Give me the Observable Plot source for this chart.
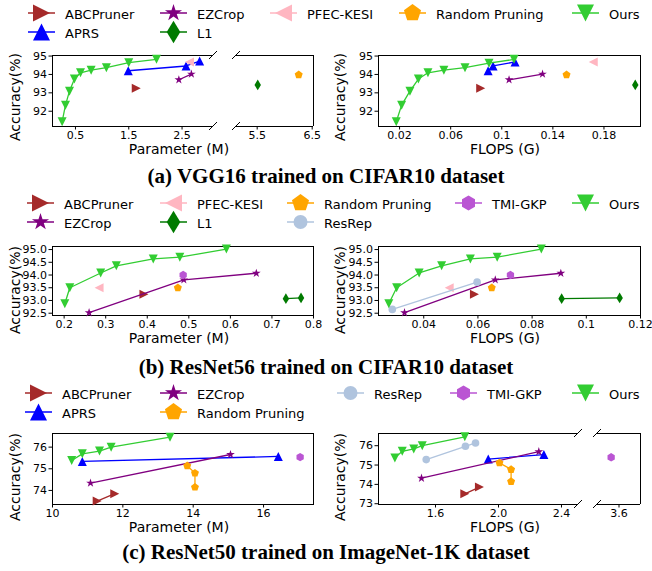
<!DOCTYPE html>
<html><head><meta charset="utf-8">
<script src="https://cdn.jsdelivr.net/npm/d3@7"></script>
<script src="https://cdn.jsdelivr.net/npm/@observablehq/plot@0.6"></script>
<style>
body{margin:0;background:#fff;}
#page{position:relative;width:652px;height:571px;background:#fff;font-family:"DejaVu Sans",sans-serif;overflow:hidden;}
.abs{position:absolute;white-space:nowrap;line-height:1;}
.cap{font-family:"Liberation Serif",serif;font-weight:bold;font-size:21px;transform:translate(-50%,-50%);}
.xl{font-size:14px;transform:translate(-50%,-50%);}
.yl{font-size:14px;transform:translate(-50%,-50%) rotate(-90deg);}
.lg{font-size:13px;}
</style></head>
<body><div id="page"></div>
<script>
// ---------------- data ----------------
const methods = ["ABCPruner","APRS","EZCrop","L1","PFEC-KESI","Random Pruning","ResRep","TMI-GKP","Ours"];

// (a) VGG16 / CIFAR10 — parameters (M)
const vggParam = [
  ["ABCPruner",1.64,93.25],
  ["APRS",1.49,94.2],["APRS",2.575,94.46],["APRS",2.83,94.73],
  ["EZCrop",2.44,93.71],["EZCrop",2.675,94.02],
  ["L1",5.51,93.43],
  ["PFEC-KESI",2.64,94.68],
  ["Random Pruning",6.255,93.98],
  ["Ours",0.25,91.43],["Ours",0.3125,92.33],["Ours",0.3875,93.09],["Ours",0.48,93.75],["Ours",0.594,94.09],
  ["Ours",0.794,94.23],["Ours",1.08,94.37],["Ours",1.5,94.64],["Ours",2.02,94.82]
];
// (a) VGG16 / CIFAR10 — FLOPS (G)
const vggFlops = [
  ["ABCPruner",0.0835,93.25],
  ["APRS",0.0893,94.2],["APRS",0.0932,94.46],["APRS",0.1104,94.68],
  ["EZCrop",0.1057,93.71],["EZCrop",0.1319,94.02],
  ["L1",0.2045,93.43],
  ["PFEC-KESI",0.1716,94.68],
  ["Random Pruning",0.1507,93.98],
  ["Ours",0.0174,91.43],["Ours",0.0216,92.33],["Ours",0.0281,93.09],["Ours",0.0347,93.75],["Ours",0.0422,94.09],
  ["Ours",0.0547,94.23],["Ours",0.0712,94.37],["Ours",0.09,94.61],["Ours",0.1096,94.82]
];
// (b) ResNet56 / CIFAR10 — parameters (M)
const r56Param = [
  ["ABCPruner",0.392,93.24],
  ["EZCrop",0.26,92.52],["EZCrop",0.488,93.81],["EZCrop",0.6624,94.07],
  ["L1",0.7336,93.07],["L1",0.77,93.1],
  ["PFEC-KESI",0.284,93.5],
  ["Random Pruning",0.4736,93.5],
  ["TMI-GKP",0.4864,94.0],
  ["Ours",0.2016,92.87],["Ours",0.2136,93.5],["Ours",0.288,94.08],["Ours",0.3256,94.36],
  ["Ours",0.4144,94.63],["Ours",0.4784,94.7],["Ours",0.5904,95.02]
];
// (b) ResNet56 / CIFAR10 — FLOPS (G)
const r56Flops = [
  ["ABCPruner",0.0587,93.24],
  ["EZCrop",0.0329,92.52],["EZCrop",0.0664,93.81],["EZCrop",0.0906,94.07],
  ["L1",0.0909,93.07],["L1",0.1123,93.1],
  ["PFEC-KESI",0.0494,93.5],
  ["Random Pruning",0.0651,93.5],
  ["ResRep",0.0284,92.65],["ResRep",0.0597,93.72],
  ["TMI-GKP",0.072,94.0],
  ["Ours",0.0271,92.87],["Ours",0.03,93.5],["Ours",0.0383,94.08],["Ours",0.0466,94.36],
  ["Ours",0.0572,94.63],["Ours",0.0671,94.7],["Ours",0.0834,95.02]
];
// (c) ResNet50 / ImageNet-1K — parameters (M)
const r50Param = [
  ["ABCPruner",11.27,73.51],["ABCPruner",11.77,73.85],
  ["APRS",10.847,75.34],["APRS",16.42,75.57],
  ["EZCrop",11.08,74.34],["EZCrop",15.06,75.66],
  ["Random Pruning",13.83,75.14],["Random Pruning",14.05,74.8],["Random Pruning",14.05,74.15],
  ["TMI-GKP",17.04,75.54],
  ["Ours",10.546,75.38],["Ours",10.847,75.69],["Ours",11.336,75.82],["Ours",11.666,76.0],["Ours",13.341,76.46]
];
// (c) ResNet50 / ImageNet-1K — FLOPS (G)
const r50Flops = [
  ["ABCPruner",1.786,73.51],["ABCPruner",1.879,73.86],
  ["APRS",1.935,75.31],["APRS",2.288,75.54],
  ["EZCrop",1.511,74.32],["EZCrop",2.256,75.69],
  ["Random Pruning",2.006,75.11],["Random Pruning",2.08,74.77],["Random Pruning",2.08,74.15],
  ["ResRep",1.541,75.28],["ResRep",1.79,75.97],["ResRep",1.854,76.14],
  ["TMI-GKP",3.55,75.4],
  ["Ours",1.342,75.37],["Ours",1.389,75.71],["Ours",1.462,75.83],["Ours",1.516,76.0],["Ours",1.786,76.46]
];

// tick values
const ticksA_xl = [0.5,1.5,2.5], ticksA_xr = [5.5,6.5], ticksA_y = [92,93,94,95];
const ticksA_fx = [0.02,0.06,0.1,0.14,0.18];
const ticksB_x = [0.2,0.3,0.4,0.5,0.6,0.7,0.8], ticksB_y = [92.5,93.0,93.5,94.0,94.5,95.0];
const ticksB_fx = [0.04,0.06,0.08,0.1,0.12];
const ticksC_x = [10,12,14,16], ticksC_y = [74,75,76];
const ticksC_fxl = [1.6,2.0,2.4], ticksC_fxr = [3.6], ticksC_fy = [73,74,75,76];

// legends (column-wise entries)
const legendA = [["ABCPruner","APRS"],["EZCrop","L1"],["PFEC-KESI"],["Random Pruning"],["Ours"]];
const legendB = [["ABCPruner","EZCrop"],["PFEC-KESI","L1"],["Random Pruning","ResRep"],["TMI-GKP"],["Ours"]];
const legendC = [["ABCPruner","APRS"],["EZCrop","Random Pruning"],["ResRep"],["TMI-GKP"],["Ours"]];

// ---------------- styles ----------------
function poly(n, rot, sx = 1) {
  return {draw(ctx, size) {
    const R = Math.sqrt(size / Math.PI);
    for (let k = 0; k < n; k++) {
      const a = rot + 2 * Math.PI * k / n;
      const x = sx * R * Math.cos(a), y = R * Math.sin(a);
      k ? ctx.lineTo(x, y) : ctx.moveTo(x, y);
    }
    ctx.closePath();
  }};
}
function tri(dir) { // matplotlib isoceles triangle (base = height)
  return {draw(ctx, size) {
    const s = Math.sqrt(size / Math.PI);
    const pts = {up:[[0,-s],[-s,s],[s,s]], down:[[0,s],[-s,-s],[s,-s]],
                 right:[[s,0],[-s,-s],[-s,s]], left:[[-s,0],[s,-s],[s,s]]}[dir];
    ctx.moveTo(...pts[0]); ctx.lineTo(...pts[1]); ctx.lineTo(...pts[2]); ctx.closePath();
  }};
}
const star = {draw(ctx, size) {
  const R = Math.sqrt(size / Math.PI), r = R * 0.381966;
  for (let k = 0; k < 10; k++) {
    const a = -Math.PI / 2 + Math.PI * k / 5, rr = k % 2 ? r : R;
    k ? ctx.lineTo(rr * Math.cos(a), rr * Math.sin(a)) : ctx.moveTo(rr * Math.cos(a), rr * Math.sin(a));
  }
  ctx.closePath();
}};
const circ = {draw(ctx, size) { const R = Math.sqrt(size / Math.PI); ctx.moveTo(R, 0); ctx.arc(0, 0, R, 0, 2 * Math.PI); }};
const thinDiamond = {draw(ctx, size) {
  const s = Math.sqrt(size / Math.PI), h = 1.414 * s, w = 0.6 * h;
  ctx.moveTo(0, -h); ctx.lineTo(w, 0); ctx.lineTo(0, h); ctx.lineTo(-w, 0); ctx.closePath();
}};
const STYLE = {
  "ABCPruner":      {color:"#a52a2a", sym:tri("right"), r:4.5, lr:8.5},
  "APRS":           {color:"#0000ff", sym:tri("up"),    r:4.5, lr:8.5},
  "EZCrop":         {color:"#800080", sym:star,         r:4.6, lr:9},
  "L1":             {color:"#007a00", sym:thinDiamond,  r:3.8, lr:8},
  "PFEC-KESI":      {color:"#ffb6c1", sym:tri("left"),  r:4.5, lr:8.5},
  "Random Pruning": {color:"#ffa500", sym:poly(5,-Math.PI/2), r:4.2, lr:9},
  "ResRep":         {color:"#b0c4de", sym:circ,         r:3.8, lr:7},
  "TMI-GKP":        {color:"#ba55d3", sym:poly(6,-Math.PI/2), r:4.2, lr:7.5},
  "Ours":           {color:"#32cd32", sym:tri("down"),  r:4.5, lr:8.5}
};

const page = document.getElementById("page");
function put(el, x, y) { el.style.position = "absolute"; el.style.left = x + "px"; el.style.top = y + "px"; page.appendChild(el); }
function text(cls, str, x, y) { const d = document.createElement("div"); d.className = "abs " + cls; d.textContent = str; put(d, x, y); }

function breakMarks(side) {
  return (index, scales, values, dim) => {
    const g = d3.create("svg:g").attr("stroke", "black").attr("stroke-width", 1);
    const x = side === "right" ? dim.width - dim.marginRight : dim.marginLeft;
    for (const y of [dim.marginTop, dim.height - dim.marginBottom])
      g.append("line").attr("x1", x - 4).attr("y1", y + 4).attr("x2", x + 4).attr("y2", y - 4);
    return g.node();
  };
}

function panel(c) {
  const ml = c.yTicks ? 44 : 4, mr = 8, mt = 8, mb = 22;
  const marks = [];
  if (!c.open) marks.push(Plot.frame({stroke: "black"}));
  else {
    marks.push(Plot.ruleY(c.yDomain, {stroke: "black"}));
    marks.push(Plot.ruleX([c.open === "right" ? c.xDomain[0] : c.xDomain[1]], {stroke: "black"}));
    marks.push(breakMarks(c.open));
  }
  marks.push(Plot.axisX(c.xTicks, {tickFormat: c.xFormat, tickSize: 3.5, tickPadding: 1, fontSize: 11, label: null}));
  if (c.yTicks) marks.push(Plot.axisY(c.yTicks, {tickFormat: c.yFormat, tickSize: 3.5, tickPadding: 2, fontSize: 11, label: null}));
  for (const m of methods) {
    const d = c.rows.filter(r => r[0] === m && r[1] >= c.xDomain[0] && r[1] <= c.xDomain[1]);
    if (!d.length) continue;
    const st = STYLE[m];
    marks.push(Plot.line(d, {x: r => r[1], y: r => r[2], stroke: st.color, strokeWidth: 1.3}));
    marks.push(Plot.dot(d, {x: r => r[1], y: r => r[2], symbol: st.sym, r: st.r, fill: st.color, stroke: "none"}));
  }
  const svg = Plot.plot({
    width: ml + c.fw + mr, height: mt + c.fh + mb,
    marginLeft: ml, marginRight: mr, marginTop: mt, marginBottom: mb,
    x: {type: "linear", domain: c.xDomain, axis: null},
    y: {type: "linear", domain: c.yDomain, axis: null},
    style: {fontFamily: "DejaVu Sans", fontSize: "11px", color: "black", background: "transparent", overflow: "visible"},
    marks
  });
  put(svg, c.fx - ml, c.fy - mt);
}

function legend(cols, colX, top) {
  cols.forEach((col, ci) => col.forEach((m, ri) => {
    const st = STYLE[m];
    const cy = top + ri * 19;
    const p = d3.path(); st.sym.draw(p, Math.PI * st.lr * st.lr);
    const s = d3.create("svg").attr("width", 30).attr("height", 26).style("overflow", "visible");
    s.append("line").attr("x1", 0).attr("x2", 27).attr("y1", 13).attr("y2", 13).attr("stroke", st.color).attr("stroke-width", 1.5);
    s.append("path").attr("d", p.toString()).attr("transform", "translate(13.5,13)").attr("fill", st.color);
    put(s.node(), colX[ci], cy - 13);
    const t = document.createElement("div"); t.className = "abs lg"; t.textContent = m;
    t.style.transform = "translateY(-50%)";
    put(t, colX[ci] + 37, cy + 1);
  }));
}

const f1 = d3.format(".1f"), fs = d => String(d);

// ---- row (a)
legend(legendA, [28,160,270,399,572], 13);
panel({rows: vggParam, fx: 52, fy: 55, fw: 161, fh: 71, xDomain: [0.069, 3.09], yDomain: [91.17, 95.03],
  xTicks: ticksA_xl, xFormat: fs, yTicks: ticksA_y, yFormat: fs, open: "right"});
panel({rows: vggParam, fx: 236, fy: 55, fw: 77, fh: 71, xDomain: [5.124, 6.524], yDomain: [91.17, 95.03],
  xTicks: ticksA_xr, xFormat: fs, open: "left"});
panel({rows: vggFlops, fx: 378, fy: 55, fw: 262, fh: 71, xDomain: [0.0035, 0.2086], yDomain: [91.17, 95.03],
  xTicks: ticksA_fx, xFormat: fs, yTicks: ticksA_y, yFormat: fs});
text("yl", "Accuracy(%)", 15, 97); text("yl", "Accuracy(%)", 340, 97);
text("xl", "Parameter (M)", 179, 149); text("xl", "FLOPS (G)", 505, 149);
text("cap", "(a) VGG16 trained on CIFAR10 dataset", 326, 176);

// ---- row (b)
legend(legendB, [27,160,287,455,572], 203);
panel({rows: r56Param, fx: 52, fy: 246, fw: 261, fh: 69, xDomain: [0.172, 0.8], yDomain: [92.41, 95.12],
  xTicks: ticksB_x, xFormat: fs, yTicks: ticksB_y, yFormat: f1});
panel({rows: r56Flops, fx: 378, fy: 246, fw: 262, fh: 69, xDomain: [0.0233, 0.12], yDomain: [92.41, 95.12],
  xTicks: ticksB_fx, xFormat: fs, yTicks: ticksB_y, yFormat: f1});
text("yl", "Accuracy(%)", 15, 290); text("yl", "Accuracy(%)", 340, 290);
text("xl", "Parameter (M)", 179, 338); text("xl", "FLOPS (G)", 505, 338);
text("cap", "(b) ResNet56 trained on CIFAR10 dataset", 326, 367);

// ---- row (c)
legend(legendC, [25,160,337,450,572], 393);
panel({rows: r50Param, fx: 52, fy: 433, fw: 261, fh: 71, xDomain: [10.0, 17.42], yDomain: [73.35, 76.63],
  xTicks: ticksC_x, xFormat: fs, yTicks: ticksC_y, yFormat: fs});
panel({rows: r50Flops, fx: 378, fy: 433, fw: 200, fh: 71, xDomain: [1.238, 2.508], yDomain: [72.96, 76.63],
  xTicks: ticksC_fxl, xFormat: f1, yTicks: ticksC_fy, yFormat: fs, open: "right"});
panel({rows: r50Flops, fx: 597, fy: 433, fw: 43, fh: 71, xDomain: [3.463, 3.737], yDomain: [72.96, 76.63],
  xTicks: ticksC_fxr, xFormat: f1, open: "left"});
text("yl", "Accuracy(%)", 15, 477); text("yl", "Accuracy(%)", 340, 477);
text("xl", "Parameter (M)", 179, 527); text("xl", "FLOPS (G)", 505, 527);
text("cap", "(c) ResNet50 trained on ImageNet-1K dataset", 326, 552);
</script></body></html>
